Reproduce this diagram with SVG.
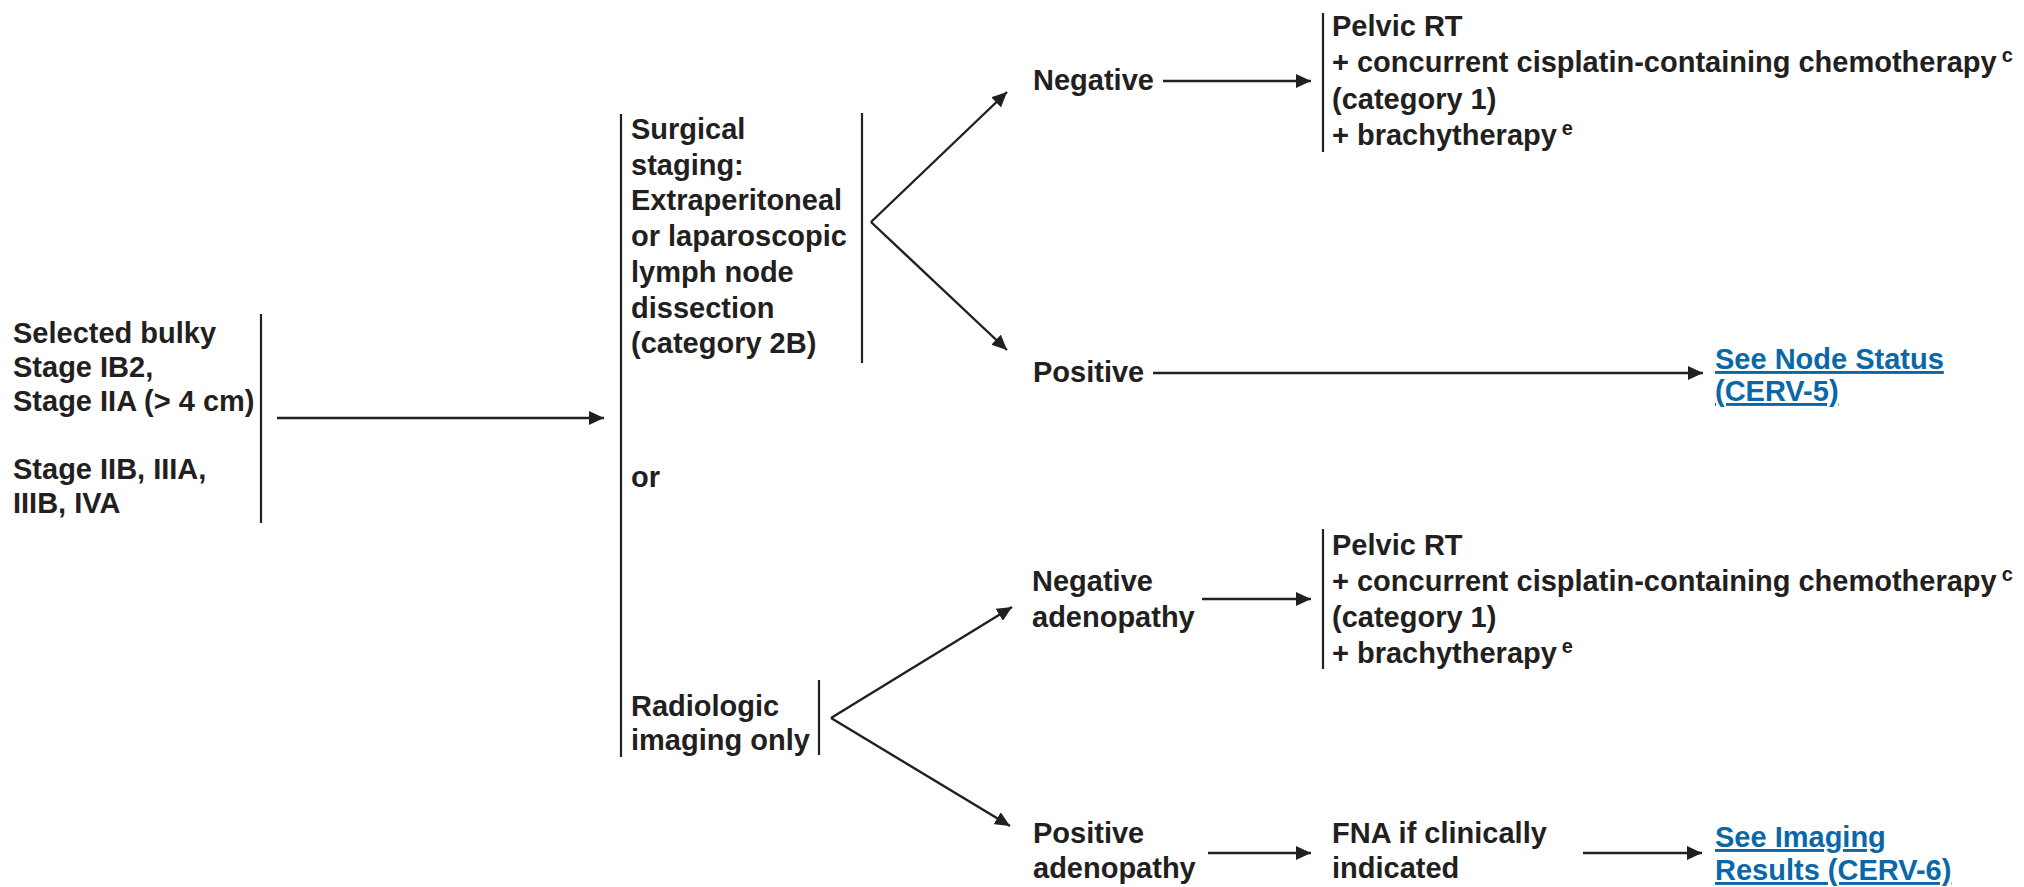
<svg xmlns="http://www.w3.org/2000/svg" width="2024" height="887" viewBox="0 0 2024 887">
  <style>
    text { font-family: "Liberation Sans", Arial, Helvetica, sans-serif; font-weight: bold; font-size: 29px; fill: #231f20; }
    .link { fill: #0a67a8; text-decoration: underline; }
    .sup { font-size: 20px; }
    .bar { stroke: #231f20; stroke-width: 2.2; fill: none; }
    .arrow { stroke: #231f20; stroke-width: 2.4; fill: none; marker-end: url(#head); }
  </style>
  <defs>
    <marker id="head" markerUnits="userSpaceOnUse" markerWidth="16" markerHeight="14" refX="15" refY="7" orient="auto">
      <path d="M0,0 L15,7 L0,14 z" fill="#231f20"/>
    </marker>
  </defs>
  <rect width="2024" height="887" fill="#ffffff"/>

  <!-- Presenting stage -->
  <g id="stage">
    <text x="13" y="343">Selected bulky</text>
    <text x="13" y="377">Stage IB2,</text>
    <text x="13" y="411">Stage IIA (&gt; 4 cm)</text>
    <text x="13" y="479">Stage IIB, IIIA,</text>
    <text x="13" y="513">IIIB, IVA</text>
    <line class="bar" x1="261" y1="314" x2="261" y2="523"/>
  </g>

  <!-- Workup options, joined by a bracket -->
  <g id="workup">
    <line class="bar" x1="621" y1="114" x2="621" y2="757"/>
    <text x="712" y="487" dx="-81">or</text>
  </g>

  <g id="surgical-staging">
    <text x="631" y="139">Surgical</text>
    <text x="631" y="175">staging:</text>
    <text x="631" y="210">Extraperitoneal</text>
    <text x="631" y="246">or laparoscopic</text>
    <text x="631" y="282">lymph node</text>
    <text x="631" y="318">dissection</text>
    <text x="631" y="353">(category 2B)</text>
    <line class="bar" x1="862" y1="113" x2="862" y2="363"/>
  </g>

  <g id="radiologic-imaging">
    <text x="631" y="716">Radiologic</text>
    <text x="631" y="750">imaging only</text>
    <line class="bar" x1="819" y1="680" x2="819" y2="755"/>
  </g>

  <!-- Surgical staging results -->
  <g id="surgical-negative">
    <text x="1033" y="90">Negative</text>
  </g>
  <g id="surgical-negative-treatment">
    <line class="bar" x1="1323" y1="13" x2="1323" y2="152"/>
    <text x="1332" y="36">Pelvic RT</text>
    <text x="1332" y="72">+ concurrent cisplatin-containing chemotherapy<tspan class="sup" dx="5" dy="-10">c</tspan></text>
    <text x="1332" y="109">(category 1)</text>
    <text x="1332" y="145">+ brachytherapy<tspan class="sup" dx="5" dy="-10">e</tspan></text>
  </g>
  <g id="surgical-positive">
    <text x="1033" y="382">Positive</text>
  </g>
  <g id="node-status-link">
    <text class="link" x="1715" y="369">See Node Status</text>
    <text class="link" x="1715" y="401">(CERV-5)</text>
  </g>

  <!-- Radiologic imaging results -->
  <g id="negative-adenopathy">
    <text x="1032" y="591">Negative</text>
    <text x="1032" y="627">adenopathy</text>
  </g>
  <g id="negative-adenopathy-treatment">
    <line class="bar" x1="1323" y1="529" x2="1323" y2="669"/>
    <text x="1332" y="555">Pelvic RT</text>
    <text x="1332" y="591">+ concurrent cisplatin-containing chemotherapy<tspan class="sup" dx="5" dy="-10">c</tspan></text>
    <text x="1332" y="627">(category 1)</text>
    <text x="1332" y="663">+ brachytherapy<tspan class="sup" dx="5" dy="-10">e</tspan></text>
  </g>
  <g id="positive-adenopathy">
    <text x="1033" y="843">Positive</text>
    <text x="1033" y="878">adenopathy</text>
  </g>
  <g id="fna">
    <text x="1332" y="843">FNA if clinically</text>
    <text x="1332" y="878">indicated</text>
  </g>
  <g id="imaging-results-link">
    <text class="link" x="1715" y="847">See Imaging</text>
    <text class="link" x="1715" y="880">Results (CERV-6)</text>
  </g>

  <!-- Connectors -->
  <g id="connectors">
    <line class="arrow" x1="277" y1="418" x2="604" y2="418"/>
    <line class="arrow" x1="871" y1="222" x2="1007" y2="92"/>
    <line class="arrow" x1="871" y1="222" x2="1007" y2="350"/>
    <line class="arrow" x1="1163" y1="81" x2="1311" y2="81"/>
    <line class="arrow" x1="1153" y1="373" x2="1703" y2="373"/>
    <line class="arrow" x1="831" y1="718" x2="1012" y2="607"/>
    <line class="arrow" x1="831" y1="718" x2="1010" y2="826"/>
    <line class="arrow" x1="1202" y1="599" x2="1311" y2="599"/>
    <line class="arrow" x1="1208" y1="853" x2="1311" y2="853"/>
    <line class="arrow" x1="1583" y1="853" x2="1702" y2="853"/>
  </g>
</svg>
